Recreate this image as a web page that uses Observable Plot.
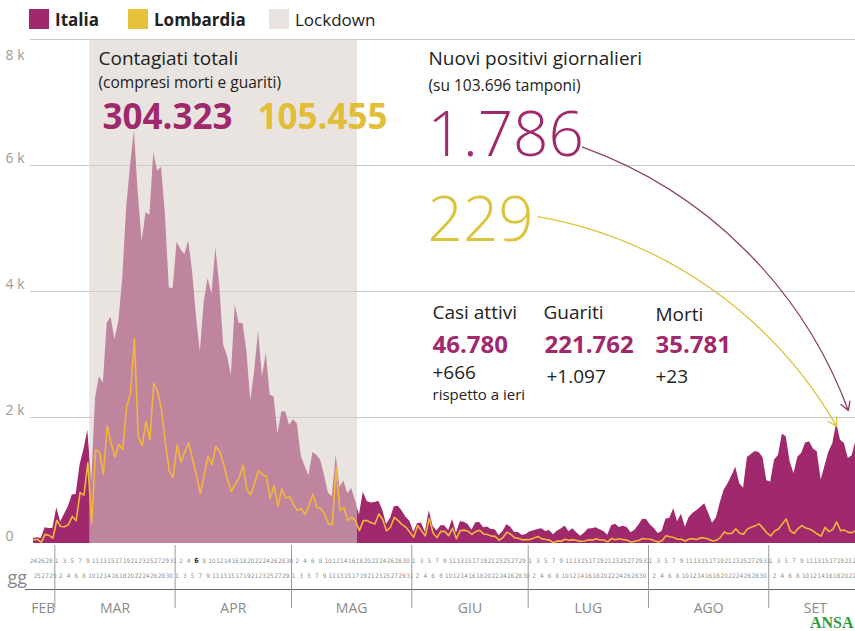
<!DOCTYPE html>
<html><head><meta charset="utf-8">
<script src="https://cdn.jsdelivr.net/npm/d3@7"></script>
<script src="https://cdn.jsdelivr.net/npm/@observablehq/plot@0.6"></script>
<style>
html,body{margin:0;padding:0;background:#fff;overflow:hidden;width:855px;height:631px;font-family:"Open Sans",sans-serif}
#legend{height:36px;position:relative;font-size:17px;color:#222}
.item{position:absolute;top:9px;display:flex;align-items:center;height:20px;white-space:nowrap}
.sw{width:20px;height:20px;margin-right:6px}
#chart svg{display:block}
</style></head><body>
<div id="legend"></div>
<div id="chart"></div>
<script>
// ---- data (daily new positives, from 24 Feb 2020) ----
const startDate = "2020-02-24";
const italia = [
 80,93,78,250,238,240,
 566,342,466,587,769,778,1247,1492,1797,977,2313,2651,2547,3497,3590,3233,3526,4207,5322,5986,6557,5560,4789,5249,5210,6203,5909,5974,5217,4050,4053,
 4782,4668,4585,4805,4316,3599,3039,3836,4204,3951,4694,4092,3153,2972,2667,3786,3493,3491,3047,2256,2729,3370,2646,3021,2357,2324,1739,2091,2086,1872,
 1965,1900,1389,1221,1075,1444,1401,1327,1083,802,744,1402,888,992,789,875,675,451,813,665,642,652,669,531,300,397,584,593,516,416,355,
 178,318,321,177,518,270,197,280,283,202,379,163,346,338,301,210,329,333,251,262,224,218,122,190,296,259,175,174,126,142,
 187,201,223,235,192,208,138,193,229,276,188,234,169,114,163,230,233,249,219,190,129,282,306,252,275,255,170,212,289,386,379,
 295,239,159,190,384,402,552,347,463,259,412,481,523,574,629,479,320,403,642,845,947,1071,1210,953,878,1367,1411,1460,1444,1365,996,
 978,1326,1397,1733,1695,1297,1108,1370,1434,1597,1616,1501,1458,1008,1229,1452,1585,1907,1638,1587,1350,1392,1640,1786
];
const lombardia = [
 60,68,18,145,128,84,
 369,270,266,300,431,361,808,769,1280,322,1489,1445,1095,1865,1587,1377,1571,1493,2171,2380,3251,1691,1555,1942,1643,2543,2409,2117,1592,1154,1047,
 1565,1292,1455,1598,1337,1079,791,1089,1388,1246,1544,1460,1262,1012,827,941,1041,1246,855,773,960,1161,1092,1073,712,920,590,869,720,747,
 620,526,553,460,606,785,574,560,469,311,300,1200,522,574,363,416,363,205,363,363,330,310,469,380,200,258,416,363,300,258,180,
 100,285,200,120,400,163,94,194,192,125,241,76,207,212,196,143,191,211,152,143,117,113,52,94,180,147,90,81,58,62,
 64,86,112,73,63,53,13,39,37,68,50,61,49,34,40,58,53,77,55,56,26,80,59,75,61,52,24,36,48,80,71,
 67,42,22,45,123,107,94,68,66,41,72,76,62,91,88,68,40,51,93,181,155,163,232,164,146,232,257,280,311,244,170,
 120,198,230,310,391,204,160,234,284,247,230,197,150,116,257,188,221,343,204,213,177,173,210,229
];
const lockdown = [{start: "2020-03-10", end: "2020-05-18"}];
const monthNames = ["FEB","MAR","APR","MAG","GIU","LUG","AGO","SET"];
const topRowOdd = [false, true, false, false, true, true, true, true];
const yTicks = [0, 2000, 4000, 6000, 8000];
const highlightDay = "2020-04-06";
const legendItems = [
 {label: "Italia", color: "#a0286c", bold: true},
 {label: "Lombardia", color: "#e6c13c", bold: true},
 {label: "Lockdown", color: "#e8e3e0", bold: false}
];
const annotations = [
 {t:"Contagiati totali", x:98, y:28, s:19, w:400, c:"#222"},
 {t:"(compresi morti e guariti)", x:98, y:51, s:15.5, w:400, c:"#222"},
 {t:"304.323", x:102, y:92, s:35, w:700, c:"#a0286c"},
 {t:"105.455", x:257, y:92, s:35, w:700, c:"#e2bd36"},
 {t:"Nuovi positivi giornalieri", x:428, y:28, s:19, w:400, c:"#222"},
 {t:"(su 103.696 tamponi)", x:428, y:54, s:15.5, w:400, c:"#222"},
 {t:"1.786", x:427, y:119, s:62, w:300, c:"#a0286c"},
 {t:"229", x:427, y:204, s:62, w:300, c:"#dcc33c"},
 {t:"Casi attivi", x:432, y:282, s:19, w:400, c:"#222"},
 {t:"46.780", x:432, y:316, s:24, w:700, c:"#a0286c"},
 {t:"+666", x:432, y:342, s:19, w:400, c:"#222"},
 {t:"rispetto a ieri", x:432, y:363, s:15, w:400, c:"#222"},
 {t:"Guariti", x:543, y:282, s:19, w:400, c:"#222"},
 {t:"221.762", x:544, y:316, s:24, w:700, c:"#a0286c"},
 {t:"+1.097", x:546, y:346, s:19, w:400, c:"#222"},
 {t:"Morti", x:655, y:284, s:19, w:400, c:"#222"},
 {t:"35.781", x:655, y:316, s:24, w:700, c:"#a0286c"},
 {t:"+23", x:655, y:346, s:19, w:400, c:"#222"}
];
const arrows = [
 {x1:"2020-07-14T12:00Z", y1:6290, x2:"2020-09-21", y2:2110, c:"#8e3d6c"},
 {x1:"2020-07-03", y1:5190, x2:"2020-09-18", y2:1860, c:"#dcc33c"}
];

// ---- build ----
const MAG = "#a0286c", YEL = "#f2b63a";
const DAY = 864e5;
const t0 = Date.parse(startDate);
const rows = italia.map((v, i) => ({date: new Date(t0 + i * DAY), italia: v, lombardia: lombardia[i]}));
const lastDate = rows[rows.length - 1].date;
const half = d => new Date(Date.parse(d) - DAY / 2);

const dayRows = rows.map(r => {
  const m = r.date.getUTCMonth(), day = r.date.getUTCDate();
  const odd = day % 2 === 1;
  return {date: r.date, day, top: odd === topRowOdd[m - 1], hi: r.date.toISOString().slice(0,10) === highlightDay};
});
const monthGroups = d3.groups(rows, r => r.date.getUTCMonth());
const monthLabels = monthGroups.map(([m, rs]) => ({
  name: monthNames[m - 1],
  mid: new Date((+rs[0].date + +rs[rs.length - 1].date) / 2)
}));
const monthBounds = monthGroups.slice(1).map(([m, rs]) => new Date(+rs[0].date - DAY / 2));

// legend
const lg = document.getElementById("legend");
const lefts = [29, 128, 269];
legendItems.forEach((it, i) => {
  const d = document.createElement("div");
  d.className = "item"; d.style.left = lefts[i] + "px";
  d.innerHTML = `<span class="sw" style="background:${it.color}"></span><span style="font-weight:${it.bold ? 700 : 400}">${it.label}</span>`;
  lg.appendChild(d);
});

const textMarks = annotations.map(a => Plot.text([a], {
  text: "t", frameAnchor: "top-left", dx: a.x, dy: a.y, textAnchor: "start", lineAnchor: "bottom",
  fontSize: a.s, fontWeight: a.w, fill: a.c, fontFamily: "Open Sans"
}));
const dayFont = "Liberation Sans Narrow, DejaVu Sans Condensed, sans-serif";

const chart = Plot.plot({
  width: 855, height: 595,
  marginTop: 0, marginRight: 0, marginBottom: 0, marginLeft: 0,
  x: {type: "utc", domain: [rows[0].date, lastDate], range: [33, 33 + 3.88 * (rows.length - 1)], axis: null},
  y: {domain: [0, 8000], range: [507, 3], axis: null},
  style: {fontFamily: "Open Sans", background: "transparent", overflow: "hidden"},
  marks: [
    Plot.ruleY(yTicks.filter(v => v > 0), {stroke: "#c9c9c9", strokeWidth: 1, insetLeft: 30}),
    Plot.areaY(rows, {x: "date", y: "italia", fill: MAG}),
    Plot.rect(lockdown, {x1: d => half(d.start), x2: d => half(d.end), y1: 0, y2: 8000, fill: "#d8cec8", fillOpacity: 0.56}),
    Plot.lineY(rows, {x: "date", y: "lombardia", stroke: YEL, strokeWidth: 1.6}),
    // y labels
    Plot.text(yTicks.filter(v => v < 8000), {y: d => d, text: d => d === 0 ? "0" : d / 1000 + " k", frameAnchor: "left", dx: 5, dy: -7, textAnchor: "start", fontSize: 14, fill: "#9a9a9a"}),
    Plot.text(yTicks.filter(v => v === 8000), {y: d => d, text: d => d / 1000 + " k", frameAnchor: "left", dx: 5, dy: 16, textAnchor: "start", fontSize: 14, fill: "#9a9a9a"}),
    // day labels
    Plot.text(dayRows.filter(d => d.top && !d.hi), {x: "date", text: "day", frameAnchor: "top", dy: 522, fontSize: 6.2, fill: "#8a8a8a", fontFamily: dayFont}),
    Plot.text(dayRows.filter(d => !d.top), {x: "date", text: "day", frameAnchor: "top", dy: 537, fontSize: 6.2, fill: "#8a8a8a", fontFamily: dayFont}),
    Plot.text(dayRows.filter(d => d.top && d.hi), {x: "date", text: "day", frameAnchor: "top", dy: 522, fontSize: 7, fontWeight: 700, fill: "#222", fontFamily: dayFont}),
    Plot.ruleY([0], {dy: 46, insetLeft: 25, stroke: "#666", strokeWidth: 1}),
    Plot.ruleX(monthBounds, {x: d => d, insetTop: 509, insetBottom: 23, stroke: "#9a9a9a", strokeWidth: 1}),
    Plot.text(monthLabels, {x: "mid", text: "name", frameAnchor: "top", dy: 567, fontSize: 14, fill: "#8a8a8a"}),
    Plot.text(["gg"], {frameAnchor: "top-left", dx: 7, dy: 535, textAnchor: "start", fontSize: 18, fill: "#888"}),
    // arrows
    Plot.arrow(arrows, {x1: d => new Date(d.x1), y1: "y1", x2: d => new Date(d.x2), y2: "y2", stroke: d => d.c, bend: 25, strokeWidth: 1.3, headLength: 11}),
    ...textMarks,
    Plot.text(["ANSA"], {frameAnchor: "top-left", dx: 853, dy: 591, textAnchor: "end", lineAnchor: "bottom", fontSize: 16, fontWeight: 700, fill: "#2f9a3c", fontFamily: "Liberation Serif, DejaVu Serif, serif"})
  ]
});
document.getElementById("chart").appendChild(chart);
</script></body></html>
